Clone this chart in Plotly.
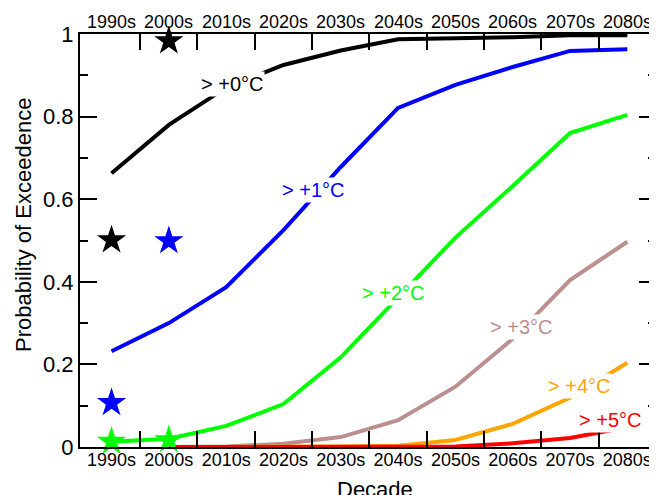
import plotly.graph_objects as go

decades = ["1990s", "2000s", "2010s", "2020s", "2030s", "2040s", "2050s", "2060s", "2070s", "2080s"]
later = decades[1:]

p0 = [0.663, 0.780, 0.870, 0.925, 0.960, 0.987, 0.990, 0.992, 0.997, 0.997]
p1 = [0.232, 0.300, 0.387, 0.525, 0.678, 0.821, 0.877, 0.920, 0.959, 0.963]
p2 = [0.013, 0.020, 0.051, 0.104, 0.217, 0.363, 0.507, 0.632, 0.760, 0.804]
p3 = [0.000, 0.001, 0.008, 0.024, 0.065, 0.146, 0.262, 0.404, 0.497]
p4 = [0.000, 0.000, 0.000, 0.001, 0.003, 0.017, 0.056, 0.119, 0.204]
p5 = [0.000, 0.000, 0.000, 0.000, 0.000, 0.001, 0.009, 0.022, 0.048]

obs_decades = ["1990s", "2000s"]
obs0 = [0.501, 0.983]
obs1 = [0.107, 0.499]
obs2 = [0.013, 0.017]

y_major = [0, 0.2, 0.4, 0.6, 0.8, 1.0]
y_major_text = ["0", "0.2", "0.4", "0.6", "0.8", "1"]
y_minor = [0.1, 0.3, 0.5, 0.7, 0.9]

labels = ["> +0°C", "> +1°C", "> +2°C", "> +3°C", "> +4°C", "> +5°C"]
colors = ["#000000", "#0000ff", "#00ff00", "#bc8f8f", "#ffa500", "#ff0000"]

font = "Liberation Sans, Arial, sans-serif"
axis_col = "#000000"
lw = 2

idx = {d: i for i, d in enumerate(decades)}
xa = [idx[d] for d in decades]
xb = [idx[d] for d in later]
xo = [idx[d] for d in obs_decades]
x_bounds = [i + 0.5 for i in range(len(decades) - 1)]

fig = go.Figure()
series = [(xa, p0), (xa, p1), (xa, p2), (xb, p3), (xb, p4), (xb, p5)]
for (xs, ys), c, name in zip(series, colors, labels):
    fig.add_trace(go.Scatter(x=xs, y=ys, mode="lines", line=dict(color=c, width=4),
                             name=name, showlegend=False))

for ys, c in zip([obs0, obs1, obs2], colors[:3]):
    fig.add_trace(go.Scatter(x=xo, y=ys, mode="markers",
                             marker=dict(symbol="star", size=22, color=c, line=dict(width=0)),
                             showlegend=False, cliponaxis=False))

# hidden trace that carries the secondary (label / minor tick) axes
fig.add_trace(go.Scatter(x=xa, y=[None] * len(xa), xaxis="x2", yaxis="y2",
                         mode="lines", showlegend=False, hoverinfo="skip"))

# curve labels
ann_pos = [(2.10, 0.879), (3.51, 0.622), (4.91, 0.373), (7.15, 0.291), (8.16, 0.148), (8.69, 0.065)]
for (ax, ay), t, c in zip(ann_pos, labels, colors):
    fig.add_annotation(x=ax, y=ay, text=t, showarrow=False,
                       font=dict(size=20, color=c, family=font),
                       bgcolor="white", borderpad=1)

# top decade labels
for d in decades:
    fig.add_annotation(x=idx[d], y=1, xref="x", yref="paper", yanchor="bottom",
                       text=d, showarrow=False, font=dict(size=18, family=font, color="black"))

# axis titles
fig.add_annotation(x=0.512, y=-0.068, xref="paper", yref="paper", xanchor="center", yanchor="top",
                   text="Decade", showarrow=False, font=dict(size=22, family=font, color="black"))
fig.add_annotation(x=-0.099, y=0.5375, xref="paper", yref="paper", xanchor="center", yanchor="middle",
                   text="Probability of Exceedence", textangle=-90, showarrow=False,
                   font=dict(size=22, family=font, color="black"))

xr = [-0.55, 9.5]
fig.update_layout(
    width=649, height=487,
    margin=dict(l=72, r=1, t=26, b=48, autoexpand=False),
    plot_bgcolor="white", paper_bgcolor="white",
    font=dict(family=font, color="black"),
    xaxis=dict(
        range=xr, tickmode="array", tickvals=x_bounds, showticklabels=False,
        ticks="inside", ticklen=16, tickcolor=axis_col, tickwidth=lw,
        showgrid=False, zeroline=False, automargin=False,
        showline=True, linecolor=axis_col, linewidth=lw, mirror="ticks",
    ),
    xaxis2=dict(
        range=xr, overlaying="x", side="bottom", anchor="y",
        tickmode="array", tickvals=xa, ticktext=decades, ticks="",
        showgrid=False, zeroline=False, showline=False, automargin=False,
        tickfont=dict(size=18),
    ),
    yaxis=dict(
        range=[0, 1], tickmode="array", tickvals=y_major, ticktext=y_major_text,
        ticks="inside", ticklen=17, tickcolor=axis_col, tickwidth=lw,
        showgrid=False, zeroline=False, automargin=False,
        showline=True, linecolor=axis_col, linewidth=lw, mirror="ticks",
        tickfont=dict(size=22),
    ),
    yaxis2=dict(
        range=[0, 1], overlaying="y", side="left", anchor="x",
        tickmode="array", tickvals=y_minor, showticklabels=False,
        ticks="inside", ticklen=8, tickcolor=axis_col, tickwidth=lw,
        showgrid=False, zeroline=False, automargin=False,
        showline=False, mirror="ticks",
    ),
)

fig.write_html("out.html")
